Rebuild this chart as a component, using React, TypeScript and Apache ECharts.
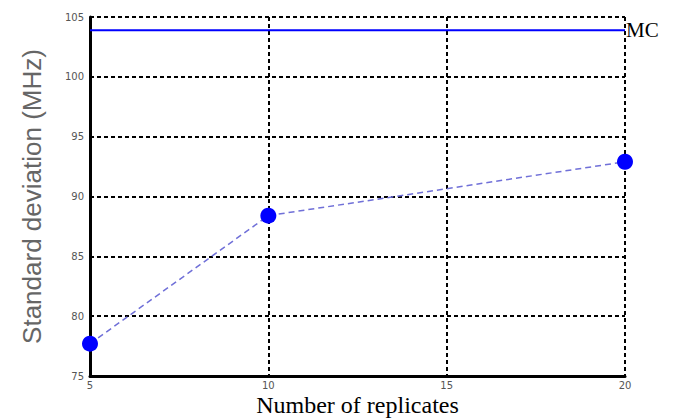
import React, { useEffect, useRef } from "react";
import * as echarts from "echarts";

const replicates = [5, 10, 20];
const stdDev = [77.7, 88.4, 92.9];
const mcValue = 103.9;
const mcRange = [5, 20];
const xTicks = [5, 10, 15, 20];
const yTicks = [75, 80, 85, 90, 95, 100, 105];

export default function App() {
  const ref = useRef<HTMLDivElement>(null);
  useEffect(() => {
    if (!ref.current) return;
    const chart = echarts.init(ref.current, undefined, { renderer: "svg" });
    const gridDash = { color: "#000", width: 2, type: [4, 3] as number[] };
    chart.setOption({
      animation: false,
      backgroundColor: "#fff",
      grid: { left: 90, right: 57, top: 17, bottom: 43, outerBoundsMode: "none", containLabel: false },
      xAxis: {
        type: "value",
        min: xTicks[0],
        max: xTicks[xTicks.length - 1],
        interval: 5,
        name: "Number of replicates",
        nameLocation: "middle",
        nameGap: 17,
        nameMoveOverlap: false,
        nameTextStyle: { fontFamily: "Liberation Serif", fontSize: 24, color: "#000" },
        axisLine: { show: true, onZero: false, lineStyle: { color: "#000", width: 3 } },
        axisTick: { show: false },
        axisLabel: { fontSize: 10, color: "#555", margin: 4, fontFamily: "DejaVu Sans" },
        splitLine: { show: true, lineStyle: gridDash },
      },
      yAxis: {
        type: "value",
        min: yTicks[0],
        max: yTicks[yTicks.length - 1],
        interval: 5,
        name: "Standard deviation (MHz)",
        nameLocation: "middle",
        nameGap: 45,
        nameMoveOverlap: false,
        nameTextStyle: { fontFamily: "Liberation Sans", fontSize: 26, color: "#666" },
        axisLine: { show: true, onZero: false, lineStyle: { color: "#000", width: 3 } },
        axisTick: { show: false },
        axisLabel: { fontSize: 10, color: "#555", margin: 6, fontFamily: "DejaVu Sans" },
        splitLine: { show: true, lineStyle: gridDash },
      },
      series: [
        {
          type: "line",
          data: mcRange.map((x) => [x, mcValue]),
          showSymbol: false,
          symbol: "none",
          lineStyle: { color: "#0000ff", width: 2 },
          endLabel: {
            show: true,
            formatter: "MC",
            fontFamily: "Liberation Serif",
            fontSize: 21,
            color: "#000",
            distance: 1,
          },
          z: 3,
        },
        {
          type: "line",
          data: replicates.map((x, i) => [x, stdDev[i]]),
          symbol: "circle",
          symbolSize: 16,
          itemStyle: { color: "#0000ff" },
          lineStyle: { color: "#7070d8", width: 1.5, type: [6, 4] },
          z: 4,
        },
      ],
    });
    return () => chart.dispose();
  }, []);
  return <div ref={ref} style={{ width: 682, height: 419, position: "absolute", left: 0, top: 0 }} />;
}
